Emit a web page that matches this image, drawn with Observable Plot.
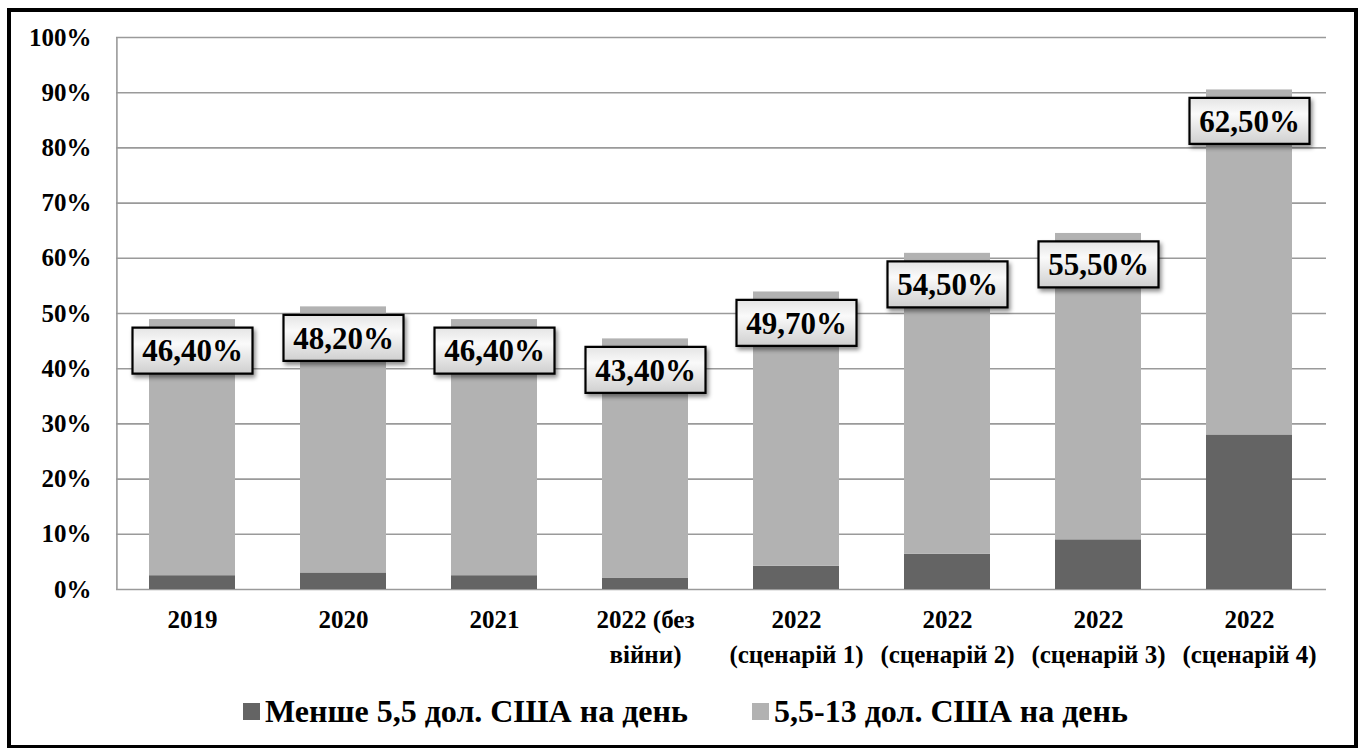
<!DOCTYPE html>
<html>
<head>
<meta charset="utf-8">
<script src="https://cdn.jsdelivr.net/npm/d3@7"></script>
<script src="https://cdn.jsdelivr.net/npm/@observablehq/plot@0.6"></script>
<style>
  html, body { margin: 0; padding: 0; background: #fff; }
  body { width: 1360px; height: 749px; position: relative; overflow: hidden; font-family: "Liberation Serif", "Times New Roman", serif; }
  #chart { position: absolute; left: 0; top: 0; }
  #frame { position: absolute; left: 7px; top: 8px; width: 1343px; height: 733px; border: 4px solid #000; border-bottom-width: 3px; pointer-events: none; z-index: 5; }
  #legend { position: absolute; left: 0; top: 693px; width: 1360px; height: 40px; }
  .lg { position: absolute; top: 0; display: flex; align-items: center; font-weight: bold; font-size: 32px; color: #000; white-space: nowrap; }
  .sw { width: 17px; height: 17px; margin-right: 5px; }
  g[aria-label="dot"] path { filter: drop-shadow(2px 3px 2px rgba(0,0,0,0.45)); }
</style>
</head>
<body>
<svg width="0" height="0" style="position:absolute">
  <defs>
    <linearGradient id="lblgrad" x1="0" y1="0" x2="0" y2="1">
      <stop offset="0" stop-color="#e4e4e4"/>
      <stop offset="0.35" stop-color="#fafafa"/>
      <stop offset="1" stop-color="#cfcfcf"/>
    </linearGradient>
  </defs>
</svg>
<div id="chart"></div>
<div id="legend"></div>
<div id="frame"></div>
<script>
const categories = ["2019", "2020", "2021", "2022 (без війни)", "2022 (сценарій 1)", "2022 (сценарій 2)", "2022 (сценарій 3)", "2022 (сценарій 4)"];
const tickLabels = ["2019", "2020", "2021", "2022 (без\nвійни)", "2022\n(сценарій 1)", "2022\n(сценарій 2)", "2022\n(сценарій 3)", "2022\n(сценарій 4)"];
const seriesNames = ["Менше 5,5 дол. США на день", "5,5-13 дол. США на день"];
const below55 = [2.5, 3.0, 2.5, 2.0, 4.2, 6.4, 9.0, 28.0];
const from55to13 = [46.4, 48.2, 46.4, 43.4, 49.7, 54.5, 55.5, 62.5];
const yTicks = [0, 10, 20, 30, 40, 50, 60, 70, 80, 90, 100];
const colors = ["#646464", "#b2b2b2"];

const rows = [];
categories.forEach((c, i) => {
  rows.push({cat: c, series: seriesNames[0], value: below55[i]});
  rows.push({cat: c, series: seriesNames[1], value: from55to13[i]});
});
const labels = categories.map((c, i) => ({cat: c, total: below55[i] + from55to13[i], value: from55to13[i]}));
const fmt = v => v.toFixed(2).replace(".", ",") + "%";

const boxSymbol = { draw(ctx) { ctx.rect(-60, -23, 120, 46); } };

const plot = Plot.plot({
  width: 1360,
  height: 690,
  marginLeft: 116,
  marginRight: 34,
  marginTop: 37,
  marginBottom: 101,
  style: { background: "transparent", fontFamily: "'Liberation Serif', 'Times New Roman', serif", color: "#000", overflow: "visible" },
  x: { domain: categories, paddingInner: 0.43, paddingOuter: 0.215, label: null },
  y: { domain: [0, 100], label: null },
  color: { domain: seriesNames, range: colors },
  marks: [
    Plot.gridY(yTicks, { stroke: "#9a9a9a", strokeOpacity: 1, strokeWidth: 1.6 }),
    Plot.ruleX([0], { x: () => categories[0], stroke: "#9a9a9a", strokeWidth: 1.6, dx: -75.6, y1: 0, y2: 100 }),
    Plot.barY(rows, { x: "cat", y: "value", fill: "series" }),
    Plot.axisY(yTicks, { tickSize: 0, tickPadding: 25, tickFormat: d => d + "%", fontSize: 25, fontWeight: "bold", label: null }),
    Plot.axisX({ tickSize: 0, tickPadding: 14, tickFormat: (d, i) => tickLabels[categories.indexOf(d)], fontSize: 25, fontWeight: "bold", lineHeight: 1.4, label: null }),
    Plot.dot(labels, { x: "cat", y: "total", dy: 31, symbol: boxSymbol, fill: "url(#lblgrad)", stroke: "#000", strokeWidth: 2.2 }),
    Plot.text(labels, { x: "cat", y: "total", dy: 32, text: d => fmt(d.value), fontSize: 31, fontWeight: "bold", fill: "#000" })
  ]
});
document.getElementById("chart").appendChild(plot);

const legend = document.getElementById("legend");
const lgX = [243, 752];
seriesNames.forEach((s, i) => {
  const item = document.createElement("div");
  item.className = "lg";
  item.style.left = lgX[i] + "px";
  const sw = document.createElement("div");
  sw.className = "sw";
  sw.style.background = colors[i];
  const t = document.createElement("span");
  t.textContent = s;
  item.appendChild(sw);
  item.appendChild(t);
  legend.appendChild(item);
});
</script>
</body>
</html>
